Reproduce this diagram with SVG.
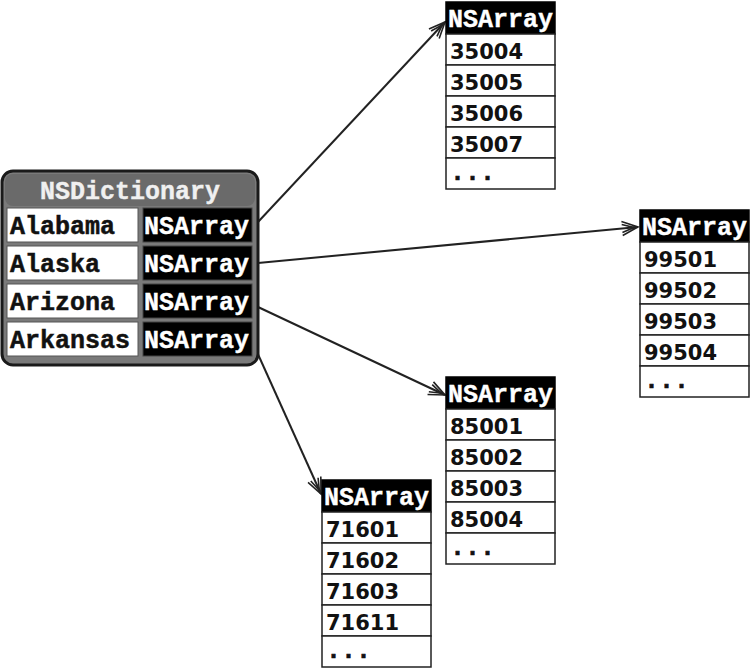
<svg xmlns="http://www.w3.org/2000/svg" width="750" height="669" viewBox="0 0 750 669">
<style>
.key{font-family:"Liberation Mono","Courier New",monospace;font-weight:bold;font-size:25px;fill:#111;stroke:#111;stroke-width:0.5}
.hd{font-family:"Liberation Mono","Courier New",monospace;font-weight:bold;font-size:25px;fill:#fff;stroke:#fff;stroke-width:0.4}
.num{font-family:"DejaVu Sans","Verdana",sans-serif;font-weight:bold;font-size:21px;fill:#111}
.dots{font-family:"Liberation Mono","Courier New",monospace;font-weight:bold;font-size:25px;fill:#111;stroke:#111;stroke-width:0.6}
.cellw{fill:#fff;stroke:#555;stroke-width:1}
.cellb{fill:#000;stroke:#444;stroke-width:1}
.row{fill:#fff;stroke:#222;stroke-width:1.5}
.head{fill:#000;stroke:#000;stroke-width:1.5}
.conn{stroke:#222;stroke-width:2;fill:none}
</style>
<defs>
<marker id="arr" markerUnits="userSpaceOnUse" markerWidth="24" markerHeight="20" viewBox="-20 -10 24 20" refX="0" refY="0" orient="auto">
<path d="M-16,-7 L0,0 L-16,7 M-16,-4 L-4,0 L-16,4" fill="none" stroke="#222" stroke-width="1.6" stroke-linejoin="miter"/>
</marker>
</defs>
<rect width="750" height="669" fill="#fff"/>
<g id="connectors">
<line class="conn" x1="258" y1="222" x2="445" y2="22" marker-end="url(#arr)"/>
<line class="conn" x1="258" y1="263" x2="638" y2="227" marker-end="url(#arr)"/>
<line class="conn" x1="258" y1="307" x2="445" y2="395" marker-end="url(#arr)"/>
<line class="conn" x1="257" y1="352" x2="321" y2="494" marker-end="url(#arr)"/>
</g>
<g id="dictionary">
<rect x="2" y="171" width="256" height="194" rx="11" fill="#7a7a7a" stroke="#1a1a1a" stroke-width="3"/>
<rect x="5" y="174" width="250" height="32" rx="8" fill="#6a6a6a"/>
<text x="130" y="199" text-anchor="middle" class="hd" style="fill:#f0f0f0;stroke:#f0f0f0">NSDictionary</text>
<rect class="cellw" x="7" y="208" width="131" height="34"/>
<rect class="cellb" x="143" y="208" width="109" height="34"/>
<text class="key" x="10" y="234">Alabama</text>
<text class="hd" x="144" y="234">NSArray</text>
<rect class="cellw" x="7" y="246" width="131" height="34"/>
<rect class="cellb" x="143" y="246" width="109" height="34"/>
<text class="key" x="10" y="272">Alaska</text>
<text class="hd" x="144" y="272">NSArray</text>
<rect class="cellw" x="7" y="284" width="131" height="34"/>
<rect class="cellb" x="143" y="284" width="109" height="34"/>
<text class="key" x="10" y="310">Arizona</text>
<text class="hd" x="144" y="310">NSArray</text>
<rect class="cellw" x="7" y="322" width="131" height="34"/>
<rect class="cellb" x="143" y="322" width="109" height="34"/>
<text class="key" x="10" y="348">Arkansas</text>
<text class="hd" x="144" y="348">NSArray</text>
</g>
<g id="array-alabama" transform="translate(446,2)">
<rect class="head" x="0" y="0" width="109" height="32"/>
<text class="hd" x="2" y="25">NSArray</text>
<rect class="row" x="0" y="32" width="109" height="31"/>
<rect class="row" x="0" y="63" width="109" height="31"/>
<rect class="row" x="0" y="94" width="109" height="31"/>
<rect class="row" x="0" y="125" width="109" height="31"/>
<rect class="row" x="0" y="156" width="109" height="31"/>
<text class="num" x="4" y="57">35004</text>
<text class="num" x="4" y="88">35005</text>
<text class="num" x="4" y="119">35006</text>
<text class="num" x="4" y="150">35007</text>
<text class="dots" x="4" y="178">...</text>
</g>
<g id="array-alaska" transform="translate(640,210)">
<rect class="head" x="0" y="0" width="109" height="32"/>
<text class="hd" x="2" y="25">NSArray</text>
<rect class="row" x="0" y="32" width="109" height="31"/>
<rect class="row" x="0" y="63" width="109" height="31"/>
<rect class="row" x="0" y="94" width="109" height="31"/>
<rect class="row" x="0" y="125" width="109" height="31"/>
<rect class="row" x="0" y="156" width="109" height="31"/>
<text class="num" x="4" y="57">99501</text>
<text class="num" x="4" y="88">99502</text>
<text class="num" x="4" y="119">99503</text>
<text class="num" x="4" y="150">99504</text>
<text class="dots" x="4" y="178">...</text>
</g>
<g id="array-arizona" transform="translate(446,377)">
<rect class="head" x="0" y="0" width="109" height="32"/>
<text class="hd" x="2" y="25">NSArray</text>
<rect class="row" x="0" y="32" width="109" height="31"/>
<rect class="row" x="0" y="63" width="109" height="31"/>
<rect class="row" x="0" y="94" width="109" height="31"/>
<rect class="row" x="0" y="125" width="109" height="31"/>
<rect class="row" x="0" y="156" width="109" height="31"/>
<text class="num" x="4" y="57">85001</text>
<text class="num" x="4" y="88">85002</text>
<text class="num" x="4" y="119">85003</text>
<text class="num" x="4" y="150">85004</text>
<text class="dots" x="4" y="178">...</text>
</g>
<g id="array-arkansas" transform="translate(322,480)">
<rect class="head" x="0" y="0" width="109" height="32"/>
<text class="hd" x="2" y="25">NSArray</text>
<rect class="row" x="0" y="32" width="109" height="31"/>
<rect class="row" x="0" y="63" width="109" height="31"/>
<rect class="row" x="0" y="94" width="109" height="31"/>
<rect class="row" x="0" y="125" width="109" height="31"/>
<rect class="row" x="0" y="156" width="109" height="31"/>
<text class="num" x="4" y="57">71601</text>
<text class="num" x="4" y="88">71602</text>
<text class="num" x="4" y="119">71603</text>
<text class="num" x="4" y="150">71611</text>
<text class="dots" x="4" y="178">...</text>
</g>
</svg>
